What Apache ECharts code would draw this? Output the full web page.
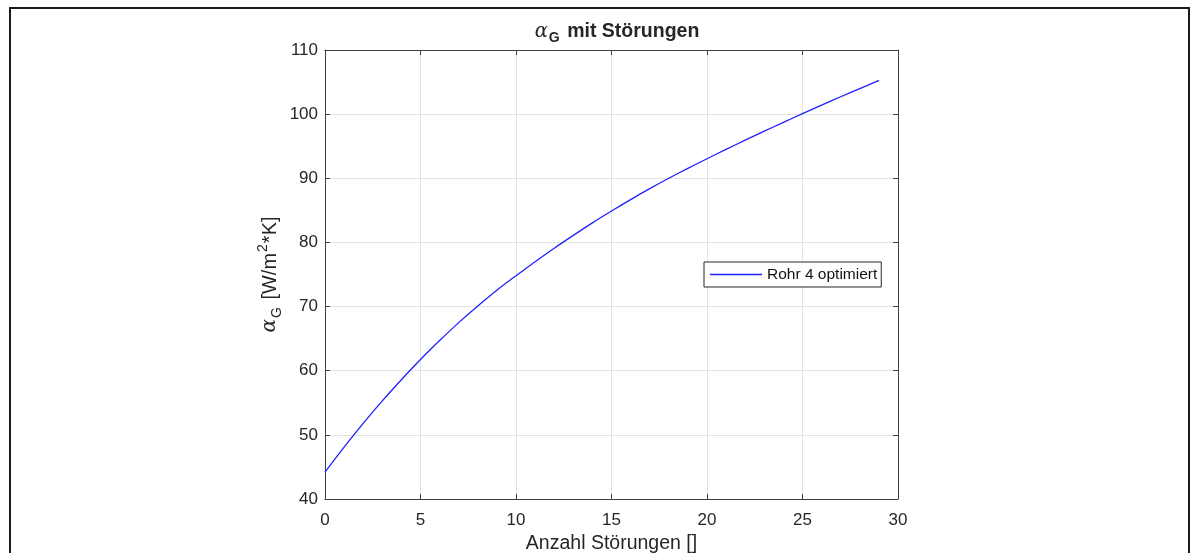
<!DOCTYPE html>
<html>
<head>
<meta charset="utf-8">
<script src="https://cdn.jsdelivr.net/npm/echarts@6/dist/echarts.min.js"></script>
<style>
  html, body { margin: 0; padding: 0; background: #fff; }
  #chart { width: 1197px; height: 553px; }
</style>
</head>
<body>
<div id="chart"></div>
<script>
// Anzahl Störungen (x) und alpha_G Werte (y)
var stoerungen = [0, 1, 2, 3, 4, 5, 6, 7, 8, 9, 10, 11, 12, 13, 14, 15, 16, 17, 18, 19, 20, 21, 22, 23, 24, 25, 26, 27, 28, 29];
var alphaG = [44.2, 48.1, 51.8, 55.3, 58.6, 61.75, 64.7, 67.5, 70.1, 72.55, 74.8, 77.0, 79.1, 81.1, 83.05, 84.9,
  86.68, 88.38, 90.0, 91.55, 93.05, 94.51, 95.94, 97.34, 98.72, 100.08, 101.41, 102.71, 103.99, 105.25];
var xTicks = [0, 30, 5];   // min, max, interval
var yTicks = [40, 110, 10];

var achse = '#404040';
var text = '#262626';
var font = 'Liberation Sans, Arial, Helvetica, sans-serif';

var punkte = [];
for (var i = 0; i < stoerungen.length; i++) {
  punkte.push([stoerungen[i], alphaG[i]]);
}

// rich text fuer alpha mit Index / Exponent
function richStyles(bold, size) {
  var w = bold ? 'bold' : 'normal';
  var klein = Math.round(size * 0.7);
  var lh = Math.round(size * 1.4);
  return {
    a: { fontFamily: 'DejaVu Serif, serif', fontStyle: 'italic', fontWeight: 'normal', fontSize: size, color: text, lineHeight: lh, verticalAlign: 'middle' },
    sub: { fontFamily: font, fontWeight: w, fontSize: klein, color: text, lineHeight: klein, verticalAlign: 'bottom', padding: [0, 2, 0, 1] },
    sup: { fontFamily: font, fontWeight: w, fontSize: klein, color: text, lineHeight: klein, verticalAlign: 'top', padding: [0, 1, 0, 1] },
    b: { fontFamily: font, fontWeight: w, fontSize: size, color: text, lineHeight: lh, verticalAlign: 'middle' }
  };
}

var chart = echarts.init(document.getElementById('chart'));
var option = {
  backgroundColor: '#fff',
  animation: false,
  graphic: [{
    type: 'polyline',
    shape: { points: [[10, 560], [10, 8], [1189, 8], [1189, 560]] },
    style: { stroke: '#1a1a1a', lineWidth: 2, fill: null }
  }],
  title: {
    text: '{a|α}{sub|G}{b| mit Störungen}',
    left: 612,
    textAlign: 'center',
    top: 13,
    textStyle: { rich: richStyles(true, 19.5) }
  },
  legend: {
    left: 704,
    top: 262,
    orient: 'vertical',
    padding: [3, 4, 3, 6],
    icon: 'rect',
    itemWidth: 52,
    itemHeight: 1.3,
    borderColor: '#262626',
    borderWidth: 1,
    borderRadius: 0,
    backgroundColor: '#fff',
    textStyle: { fontFamily: font, fontSize: 15.5, color: '#111', lineHeight: 19 },
    data: ['Rohr 4 optimiert']
  },
  grid: { left: 325, right: 299, top: 50, bottom: 54, containLabel: false, outerBoundsMode: 'none' },
  xAxis: [{
    type: 'value',
    min: xTicks[0], max: xTicks[1], interval: xTicks[2],
    name: 'Anzahl Störungen []',
    nameLocation: 'middle',
    nameGap: 34,
    nameTextStyle: { fontFamily: font, fontSize: 19.5, color: text },
    axisLine: { show: true, onZero: false, lineStyle: { color: achse, width: 1 } },
    axisTick: { show: true, inside: true, length: 5, lineStyle: { color: achse } },
    axisLabel: { margin: 13, fontFamily: font, fontSize: 17, color: text },
    splitLine: { show: true, lineStyle: { color: '#e3e3e3', width: 1 } }
  }, {
    type: 'value',
    position: 'top',
    min: xTicks[0], max: xTicks[1], interval: xTicks[2],
    axisLine: { show: true, onZero: false, lineStyle: { color: achse, width: 1 } },
    axisTick: { show: true, inside: true, length: 5, lineStyle: { color: achse } },
    axisLabel: { show: false },
    splitLine: { show: false }
  }],
  yAxis: [{
    type: 'value',
    min: yTicks[0], max: yTicks[1], interval: yTicks[2],
    name: '{a|α}{sub|G}{b| [W/m}{sup|2}{b|*K]}',
    nameLocation: 'middle',
    nameRotate: 90,
    nameGap: 41,
    nameTextStyle: { rich: richStyles(false, 20) },
    axisLine: { show: true, onZero: false, lineStyle: { color: achse, width: 1 } },
    axisTick: { show: true, inside: true, length: 5, lineStyle: { color: achse } },
    axisLabel: { margin: 7, fontFamily: font, fontSize: 17, color: text },
    splitLine: { show: true, lineStyle: { color: '#e3e3e3', width: 1 } }
  }, {
    type: 'value',
    position: 'right',
    min: yTicks[0], max: yTicks[1], interval: yTicks[2],
    axisLine: { show: true, onZero: false, lineStyle: { color: achse, width: 1 } },
    axisTick: { show: true, inside: true, length: 5, lineStyle: { color: achse } },
    axisLabel: { show: false },
    splitLine: { show: false }
  }],
  series: [{
    name: 'Rohr 4 optimiert',
    type: 'line',
    xAxisIndex: 0,
    yAxisIndex: 0,
    data: punkte,
    symbol: 'none',
    showSymbol: false,
    smooth: 0.3,
    lineStyle: { color: '#2020ff', width: 1.3 },
    itemStyle: { color: '#2020ff' }
  }]
};
chart.setOption(option);
</script>
</body>
</html>
